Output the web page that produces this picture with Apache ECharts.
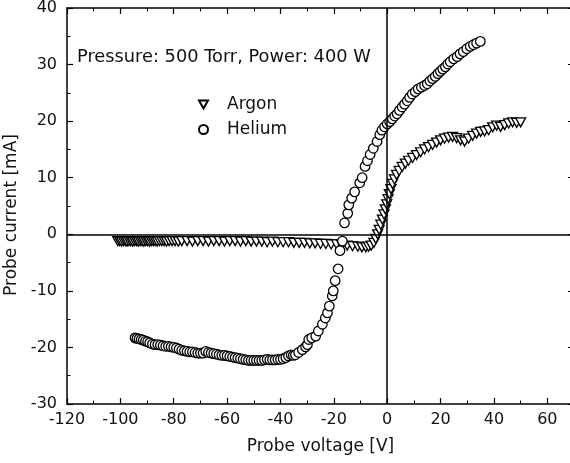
<!DOCTYPE html>
<html>
<head>
<meta charset="utf-8">
<title>Probe current vs probe voltage</title>
<script src="https://cdn.jsdelivr.net/npm/echarts@6/dist/echarts.min.js"></script>
<style>
	html, body { margin: 0; padding: 0; background: #fff; }
	#chart { width: 570px; height: 463px; }
</style>
</head>
<body>
<div id="chart"></div>
<script>
	// Argon: probe voltage [V] / probe current [mA]
	var argonV = [
		-101.0, -100.3, -99.6, -98.9, -98.2, -97.5, -96.8, -96.1, -95.4, -94.7,
		-94.0, -93.3, -92.6, -91.9, -91.2, -90.5, -89.8, -89.1, -88.4, -87.7,
		-87.0, -86.2, -85.4, -84.5, -83.6, -82.7, -81.7, -80.6, -79.5, -78.3,
		-77.0, -75.0, -73.0, -71.0, -69.0, -67.0, -65.0, -63.0, -61.0, -59.0,
		-57.0, -55.0, -53.0, -51.0, -49.0, -47.0, -45.0, -43.0, -41.0, -39.0,
		-37.0, -35.0, -33.0, -31.0, -29.0, -27.0, -25.0, -23.0, -21.0, -19.0,
		-17.0, -15.0, -13.0, -11.0, -9.5, -8.0, -7.0, -6.0, -5.0, -4.3,
		-3.6, -3.0, -2.4, -1.8, -1.2, -0.7, -0.2, 0.3, 0.8, 1.4,
		2.0, 2.7, 3.5, 4.5, 5.6, 6.8, 8.0, 9.5, 11.0, 12.5,
		14.0, 15.5, 17.0, 18.5, 20.0, 21.5, 23.0, 24.5, 26.0, 27.5,
		29.0, 30.5, 32.0, 33.5, 35.0, 36.5, 38.0, 39.5, 41.0, 42.5,
		44.0, 45.5, 47.0, 48.5, 50.0
	];
	var argonI = [
		-1.2, -1.2, -1.3, -1.2, -1.2, -1.3, -1.2, -1.2, -1.3, -1.2,
		-1.2, -1.3, -1.2, -1.2, -1.3, -1.2, -1.2, -1.3, -1.2, -1.2,
		-1.2, -1.3, -1.2, -1.2, -1.2, -1.3, -1.2, -1.2, -1.2, -1.3,
		-1.2, -1.2, -1.3, -1.2, -1.2, -1.3, -1.2, -1.2, -1.3, -1.2,
		-1.2, -1.3, -1.2, -1.3, -1.3, -1.3, -1.4, -1.3, -1.4, -1.4,
		-1.4, -1.5, -1.5, -1.5, -1.6, -1.6, -1.7, -1.7, -1.8, -1.8,
		-1.9, -2.0, -2.1, -2.2, -2.3, -2.3, -2.2, -2.0, -1.5, -0.8,
		0.0, 0.8, 1.7, 2.6, 3.5, 4.4, 5.3, 6.2, 7.1, 8.0,
		8.9, 9.7, 10.5, 11.2, 11.9, 12.5, 13.0, 13.5, 14.0, 14.5,
		15.0, 15.4, 15.8, 16.2, 16.6, 16.9, 17.1, 17.2, 17.0, 16.6,
		16.4, 16.9, 17.4, 17.8, 18.1, 18.2, 18.4, 18.9, 19.2, 19.0,
		19.3, 19.6, 19.8, 19.7, 19.8
	];

	// Helium: probe voltage [V] / probe current [mA]
	var heliumV = [
		-94.5, -93.8, -93.0, -92.2, -91.4, -90.6, -89.8, -89.0, -88.0, -87.0,
		-86.0, -85.0, -84.0, -83.0, -82.0, -81.0, -80.0, -79.0, -78.0, -77.0,
		-76.0, -75.0, -74.0, -73.0, -72.0, -71.0, -70.0, -69.0, -68.0, -67.0,
		-66.0, -65.0, -64.0, -63.0, -62.0, -61.0, -60.0, -59.0, -58.0, -57.0,
		-56.0, -55.0, -54.0, -53.0, -52.0, -51.0, -50.0, -49.0, -48.0, -47.0,
		-46.0, -45.0, -44.0, -43.0, -42.0, -41.0, -40.0, -39.0, -38.0, -37.0,
		-36.0, -35.2, -34.4, -33.2, -31.8, -30.6, -29.9, -29.4, -28.3, -26.8,
		-25.8, -24.3, -23.2, -22.4, -21.7, -20.6, -20.2, -19.5, -18.4, -17.7,
		-16.8, -16.0, -14.8, -14.4, -13.3, -12.2, -10.3, -9.4, -8.3, -7.4,
		-6.4, -5.2, -3.8, -2.8, -2.0, -1.0, 0.0, 0.9, 1.9, 2.8,
		3.7, 4.6, 5.6, 6.5, 7.5, 8.4, 9.4, 10.5, 11.6, 12.8,
		14.0, 15.0, 16.0, 17.0, 18.0, 19.0, 19.9, 20.8, 21.8, 22.7,
		23.6, 24.9, 26.2, 27.3, 28.5, 29.8, 31.1, 32.3, 33.5, 34.9
	];
	var heliumI = [
		-18.3, -18.4, -18.5, -18.6, -18.7, -18.9, -19.0, -19.2, -19.4, -19.5,
		-19.5, -19.6, -19.7, -19.8, -19.8, -19.9, -20.0, -20.1, -20.3, -20.5,
		-20.6, -20.7, -20.8, -20.8, -20.9, -21.0, -21.0, -21.0, -20.7, -20.9,
		-21.0, -21.1, -21.2, -21.3, -21.4, -21.4, -21.5, -21.6, -21.7, -21.8,
		-21.9, -22.0, -22.1, -22.2, -22.3, -22.3, -22.3, -22.3, -22.3, -22.3,
		-22.2, -22.1, -22.2, -22.2, -22.2, -22.1, -22.1, -22.0, -21.8, -21.5,
		-21.3, -21.4, -21.3, -20.9, -20.4, -19.9, -19.5, -18.6, -18.3, -18.0,
		-17.1, -15.9, -14.8, -13.9, -12.7, -10.9, -10.0, -8.2, -6.1, -2.9,
		-1.2, 2.0, 3.7, 5.2, 6.4, 7.5, 9.1, 10.0, 12.0, 13.0,
		14.1, 15.2, 16.4, 17.6, 18.4, 19.0, 19.5, 19.9, 20.4, 20.9,
		21.3, 21.9, 22.5, 23.0, 23.6, 24.2, 24.8, 25.2, 25.7, 26.0,
		26.3, 26.6, 27.1, 27.5, 27.9, 28.4, 28.8, 29.2, 29.6, 30.1,
		30.5, 31.0, 31.4, 31.9, 32.3, 32.8, 33.2, 33.5, 33.8, 34.1
	];

	var xTickLabels = [-120, -100, -80, -60, -40, -20, 0, 20, 40, 60];
	var yTickLabels = [-30, -20, -10, 0, 10, 20, 30, 40];

	function pairs(xs, ys) {
		var out = [];
		for (var i = 0; i < xs.length; i++) {
			out.push([xs[i], ys[i]]);
		}
		return out;
	}

	var font = 'DejaVu Sans';
	var ink = '#111';
	var downTriangle = 'path://M0,0L10,0L5,9Z';

	var spine = { show: true, onZero: false, lineStyle: { color: '#000', width: 1.5 } };
	var ticks = { show: true, inside: true, length: 6, lineStyle: { color: '#000', width: 1.2 } };
	var minor = { show: true, splitNumber: 2, length: 3.5, lineStyle: { color: '#000', width: 1 } };

	var chart = echarts.init(document.getElementById('chart'));
	var option = {
		animation: false,
		textStyle: { fontFamily: font, color: ink },
		title: {
			text: 'Pressure: 500 Torr, Power: 400 W',
			left: 77,
			top: 48,
			padding: 0,
			textStyle: { fontFamily: font, fontSize: 17.8, fontWeight: 'normal', color: ink }
		},
		legend: {
			orient: 'vertical',
			left: 198,
			top: 96,
			padding: 0,
			itemGap: 8,
			itemWidth: 9,
			itemHeight: 9,
			textStyle: { fontFamily: font, fontSize: 17, color: ink, padding: [0, 0, 0, 14] },
			data: [
				{ name: 'Argon', icon: downTriangle },
				{ name: 'Helium', icon: 'circle' }
			]
		},
		// the right spine (70 V) sits just past the canvas edge, as in the scan
		grid: { left: 67, top: 8, width: 507, height: 396, outerBoundsMode: 'none' },
		xAxis: [{
			type: 'value',
			position: 'bottom',
			min: -120,
			max: 70,
			interval: 20,
			name: 'Probe voltage [V]',
			nameLocation: 'middle',
			nameGap: 34,
			nameTextStyle: { fontFamily: font, fontSize: 17, color: ink },
			axisLine: spine,
			axisTick: ticks,
			minorTick: minor,
			splitLine: { show: false },
			axisLabel: {
				fontFamily: font, fontSize: 16, color: ink, margin: 8,
				formatter: function (v) { return xTickLabels.indexOf(v) >= 0 ? String(v) : ''; }
			}
		}, {
			type: 'value',
			position: 'top',
			min: -120,
			max: 70,
			interval: 20,
			axisLine: spine,
			axisTick: ticks,
			minorTick: minor,
			splitLine: { show: false },
			axisLabel: { show: false }
		}],
		yAxis: [{
			type: 'value',
			position: 'left',
			min: -30,
			max: 40,
			interval: 10,
			name: 'Probe current [mA]',
			nameLocation: 'middle',
			nameGap: 46,
			nameTextStyle: { fontFamily: font, fontSize: 17, color: ink, padding: [0, 18, 0, 0] },
			axisLine: spine,
			axisTick: ticks,
			minorTick: minor,
			splitLine: { show: false },
			axisLabel: {
				fontFamily: font, fontSize: 16, color: ink, margin: 10,
				formatter: function (v) { return yTickLabels.indexOf(v) >= 0 ? String(v) : ''; }
			}
		}, {
			type: 'value',
			position: 'right',
			min: -30,
			max: 40,
			interval: 10,
			axisLine: spine,
			axisTick: ticks,
			minorTick: minor,
			splitLine: { show: false },
			axisLabel: { show: false }
		}],
		series: [{
			name: 'Argon',
			type: 'scatter',
			xAxisIndex: 0,
			yAxisIndex: 0,
			data: pairs(argonV, argonI),
			symbol: downTriangle,
			symbolSize: [10, 9],
			itemStyle: { color: '#fff', borderColor: '#000', borderWidth: 1.3, opacity: 1 },
			markLine: {
				silent: true,
				symbol: 'none',
				animation: false,
				label: { show: false },
				lineStyle: { color: '#000', width: 1.5, type: 'solid' },
				emphasis: { disabled: true },
				data: [{ xAxis: 0 }, { yAxis: 0 }]
			}
		}, {
			name: 'Helium',
			type: 'scatter',
			xAxisIndex: 0,
			yAxisIndex: 0,
			data: pairs(heliumV, heliumI),
			symbol: 'circle',
			symbolSize: 9.5,
			itemStyle: { color: '#fff', borderColor: '#000', borderWidth: 1.3, opacity: 1 }
		}]
	};
	chart.setOption(option);
</script>
</body>
</html>
